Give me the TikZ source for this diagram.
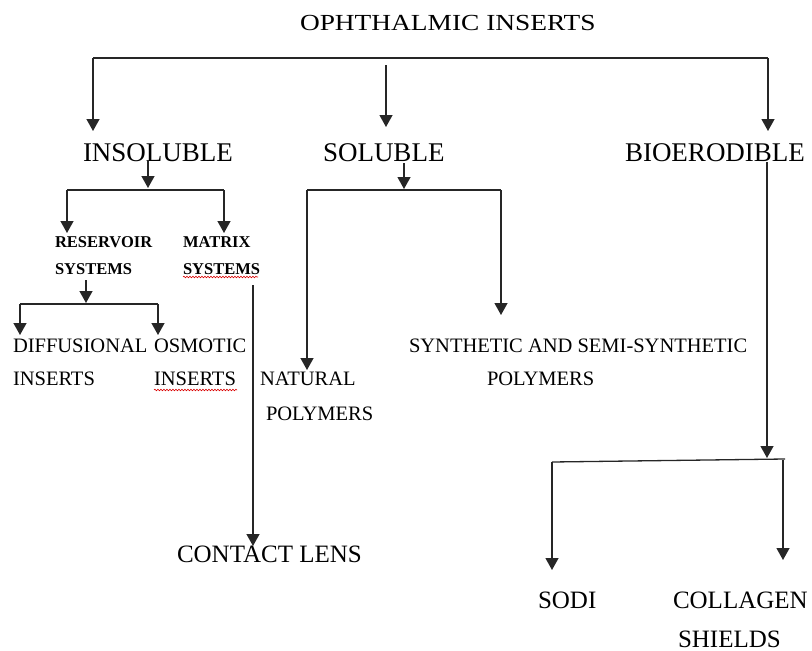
\documentclass[tikz,border=0pt]{standalone}
\usepackage{fontspec}
\setmainfont{Liberation Serif}
\usetikzlibrary{arrows.meta,decorations.pathmorphing}
\begin{document}
\begin{tikzpicture}[x=1pt,y=-1pt,
 lbl/.style={inner sep=0pt, outer sep=0pt, anchor=base west},
 fa/.style={font=\fontsize{27}{30}\selectfont},
 fb/.style={font=\fontsize{25}{28}\selectfont},
 fc/.style={font=\fontsize{20.5}{24}\selectfont},
 fd/.style={font=\fontsize{16.5}{19}\selectfont\bfseries},
 conn/.style={line width=1.3pt, draw=black!85},
 arr/.style={conn, -{Triangle[width=13pt,length=12pt]}},
 squig/.style={draw=red!85!black, line width=0.6pt, decorate, decoration={snake, amplitude=0.8pt, segment length=3pt}}
]
\useasboundingbox (0,0) rectangle (812,651);

% labels
\node[lbl,fa] (top) at (300,30) {\scalebox{1.19}[1]{\fontsize{23}{26}\selectfont OPHTHALMIC INSERTS}};
\node[lbl,fa] (ins) at (83,161) {INSOLUBLE};
\node[lbl,fa] (sol) at (323,161) {SOLUBLE};
\node[lbl,fa] (bio) at (625,161) {BIOERODIBLE};
\node[lbl,fd] (res1) at (55,247) {RESERVOIR};
\node[lbl,fd] (res2) at (55,274) {SYSTEMS};
\node[lbl,fd] (mat1) at (183,247) {MATRIX};
\node[lbl,fd] (mat2) at (183,274) {SYSTEMS};
\node[lbl,fc] (dif1) at (13,352) {DIFFUSIONAL};
\node[lbl,fc] (dif2) at (13,385) {INSERTS};
\node[lbl,fc] (osm1) at (154,352) {OSMOTIC};
\node[lbl,fc] (osm2) at (154,385) {INSERTS};
\node[lbl,fc] (nat1) at (260,385) {NATURAL};
\node[lbl,fc] (nat2) at (266,420) {POLYMERS};
\node[lbl,fc] (syn1) at (409,352) {SYNTHETIC AND SEMI-SYNTHETIC};
\node[lbl,fc] (syn2) at (487,385) {POLYMERS};
\node[lbl,fb] (con) at (177,562) {CONTACT LENS};
\node[lbl,fb] (sodi) at (538,608) {SODI};
\node[lbl,fb] (col1) at (673,608) {COLLAGEN};
\node[lbl,fb] (col2) at (678,647) {SHIELDS};

% spell-check underlines
\coordinate (sq1a) at (183,277); \coordinate (sq1b) at (258,277);
\coordinate (sq2a) at (154,390); \coordinate (sq2b) at (237,390);
\draw[squig] (sq1a) -- (sq1b);
\draw[squig] (sq2a) -- (sq2b);

% top level
\coordinate (tL) at (93,58);  \coordinate (tR) at (768,58);
\coordinate (tM) at (386,65);
\coordinate (insT) at (93,131); \coordinate (solT) at (386,127); \coordinate (bioT) at (768,131);
\draw[conn] (tL) -- (tR);
\draw[arr] (tL) -- (insT);
\draw[arr] (tM) -- (solT);
\draw[arr] (tR) -- (bioT);

% insoluble
\coordinate (i0) at (148,160); \coordinate (i1) at (148,188);
\coordinate (iL) at (67,190); \coordinate (iR) at (224,190);
\coordinate (resT) at (67,233); \coordinate (matT) at (224,233);
\draw[arr] (i0) -- (i1);
\draw[conn] (iL) -- (iR);
\draw[arr] (iL) -- (resT);
\draw[arr] (iR) -- (matT);

% reservoir
\coordinate (r0) at (86,280); \coordinate (r1) at (86,303);
\coordinate (rL) at (20,304); \coordinate (rR) at (158,304);
\coordinate (difT) at (20,335); \coordinate (osmT) at (158,335);
\draw[arr] (r0) -- (r1);
\draw[conn] (rL) -- (rR);
\draw[arr] (rL) -- (difT);
\draw[arr] (rR) -- (osmT);

% matrix
\coordinate (m0) at (253,285); \coordinate (conT) at (253,546);
\draw[arr] (m0) -- (conT);

% soluble
\coordinate (s0) at (404,163); \coordinate (s1) at (404,189);
\coordinate (sL) at (307,190); \coordinate (sR) at (501,190);
\coordinate (natT) at (307,370); \coordinate (synT) at (501,315);
\draw[arr] (s0) -- (s1);
\draw[conn] (sL) -- (sR);
\draw[arr] (sL) -- (natT);
\draw[arr] (sR) -- (synT);

% bioerodible
\coordinate (b0) at (767,162); \coordinate (b1) at (767,458);
\coordinate (bL) at (552,462); \coordinate (bR) at (785,459);
\coordinate (bR2) at (783,460);
\coordinate (sodiT) at (552,570); \coordinate (colT) at (783,560);
\draw[arr] (b0) -- (b1);
\draw[conn] (bL) -- (bR);
\draw[arr] (bL) -- (sodiT);
\draw[arr] (bR2) -- (colT);
\end{tikzpicture}
\end{document}
